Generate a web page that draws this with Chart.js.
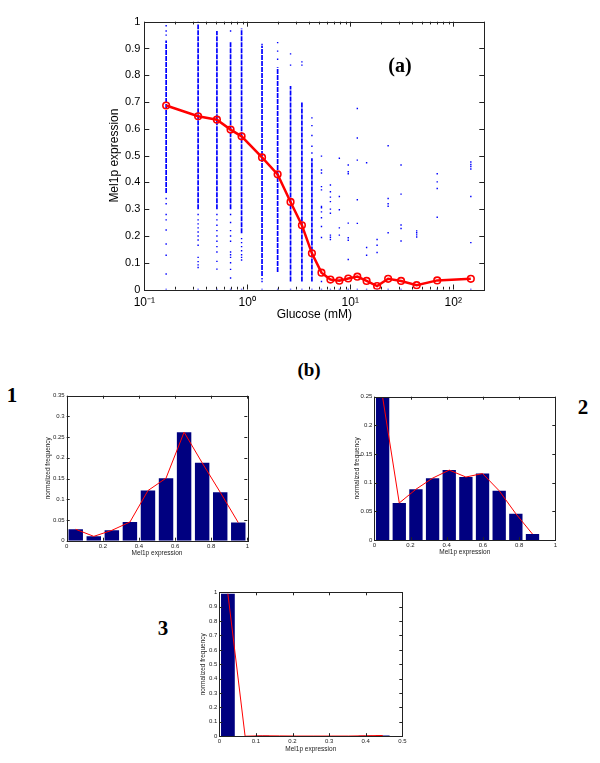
<!DOCTYPE html>
<html>
<head>
  <title>Mel1p expression vs glucose</title>
  <script src="https://cdn.jsdelivr.net/npm/chart.js"></script>
  <style>
    body { margin: 0; background: #fff; width: 600px; height: 763px; position: relative; overflow: hidden; }
    canvas { position: absolute; }
    .lbl { position: absolute; font-family: "Liberation Serif", "Times New Roman", serif; font-weight: bold;
           line-height: 1; transform: translate(-50%, -50%); color: #000; }
  </style>
</head>
<body>
  <canvas id="main" width="400" height="326" style="left:103px;top:0px"></canvas>
  <canvas id="h1" width="216" height="173" style="left:40px;top:388px"></canvas>
  <canvas id="h2" width="215" height="172" style="left:349px;top:388px"></canvas>
  <canvas id="h3" width="216" height="173" style="left:195px;top:584px"></canvas>

  <div class="lbl" style="left:400px;top:65px;font-size:20px">(a)</div>
  <div class="lbl" style="left:309px;top:369px;font-size:19px">(b)</div>
  <div class="lbl" style="left:12px;top:395px;font-size:21px">1</div>
  <div class="lbl" style="left:583px;top:407px;font-size:21px">2</div>
  <div class="lbl" style="left:163px;top:628px;font-size:21px">3</div>

  <script>
    // (a) glucose levels (mM) and mean Mel1p expression
    const glucose  = [0.163, 0.333, 0.507, 0.688, 0.88, 1.39, 1.97, 2.63, 3.39, 4.24, 5.25,
                      6.41, 7.83, 9.55, 11.7, 14.4, 18.2, 23.3, 31.1, 44.1, 69.8, 148];
    const meanExpr = [0.687, 0.647, 0.634, 0.597, 0.572, 0.493, 0.430, 0.327, 0.240, 0.135, 0.063,
                      0.037, 0.033, 0.041, 0.048, 0.032, 0.013, 0.040, 0.032, 0.016, 0.034, 0.040];
    // where single cells pile up into a solid column
    const denseLo = [0.36, 0.30, 0.30, 0.30, 0.21, 0.05, 0.065, 0.03, 0.03, 0.03];
    const denseHi = [0.93, 0.99, 0.965, 0.925, 0.975, 0.91, 0.83, 0.76, 0.70, 0.49];
    // single cells, one list per glucose level
    const cells = [
      [0.985, 0.965, 0.95, 0.34, 0.32, 0.28, 0.26, 0.222, 0.17, 0.128, 0.058, 0.0],
      [1.0, 0.28, 0.26, 0.245, 0.23, 0.215, 0.2, 0.185, 0.165, 0.12, 0.104, 0.092, 0.082, 0.0],
      [0.28, 0.26, 0.24, 0.22, 0.2, 0.18, 0.16, 0.14, 0.105, 0.076, 0.0],
      [0.965, 0.28, 0.25, 0.22, 0.2, 0.18, 0.14, 0.13, 0.12, 0.1, 0.075, 0.043, 0.0],
      [0.19, 0.175, 0.16, 0.145, 0.13, 0.12, 0.11, 0.0],
      [0.915, 0.04, 0.03, 0.0],
      [0.922, 0.89, 0.86, 0.0],
      [0.88, 0.838, 0.0],
      [0.85, 0.838, 0.0],
      [0.641, 0.612, 0.575, 0.535, 0.51, 0.0],
      [0.498, 0.446, 0.435, 0.384, 0.372, 0.31, 0.305, 0.29, 0.268, 0.235, 0.194, 0.03, 0.0],
      [0.39, 0.365, 0.345, 0.328, 0.3, 0.285, 0.203, 0.195, 0.187, 0.0],
      [0.49, 0.347, 0.298, 0.23, 0.203, 0.035, 0.0],
      [0.465, 0.44, 0.432, 0.248, 0.193, 0.184, 0.112, 0.0],
      [0.676, 0.566, 0.483, 0.335, 0.247, 0.0],
      [0.473, 0.157, 0.128, 0.0],
      [0.187, 0.165, 0.138, 0.0],
      [0.537, 0.34, 0.32, 0.311, 0.212, 0.0],
      [0.465, 0.356, 0.241, 0.228, 0.181, 0.0],
      [0.219, 0.212, 0.204, 0.196],
      [0.432, 0.402, 0.377, 0.27, 0.0],
      [0.476, 0.467, 0.459, 0.45, 0.347, 0.175, 0.0]
    ];
    const xMajor = [0.1, 1, 10, 100];
    const xMajorLabels = ['10⁻¹', '10⁰', '10¹', '10²'];
    const xMinor = [0.2, 0.3, 0.4, 0.5, 0.6, 0.7, 0.8, 0.9, 2, 3, 4, 5, 6, 7, 8, 9,
                    20, 30, 40, 50, 60, 70, 80, 90, 200];
    const yTicksMain = [0, 0.1, 0.2, 0.3, 0.4, 0.5, 0.6, 0.7, 0.8, 0.9, 1];

    // (b) histograms
    const bins1 = [0.05, 0.15, 0.25, 0.35, 0.45, 0.55, 0.65, 0.75, 0.85, 0.95];
    const freq1 = [0.0275, 0.0105, 0.025, 0.045, 0.121, 0.151, 0.262, 0.188, 0.117, 0.0437];
    const bins2 = [0.046, 0.138, 0.23, 0.322, 0.414, 0.506, 0.598, 0.69, 0.782, 0.874];
    const freq2 = [0.249, 0.0647, 0.0886, 0.108, 0.122, 0.110, 0.116, 0.086, 0.046, 0.0105];
    const bins3 = [0.0235, 0.0705, 0.1175, 0.1645, 0.2115, 0.2585, 0.3055, 0.3525, 0.3995, 0.4465];
    const freq3 = [0.99, 0.0, 0.003, 0.002, 0.001, 0.001, 0.001, 0.001, 0.003, 0.005];

    // matlab style box with ticks pointing inward
    const frameTicks = {
      id: 'frameTicks',
      afterDraw(chart, args, opts) {
        const { ctx, chartArea: a } = chart;
        const xs = chart.scales.x, ys = chart.scales.y;
        const len = opts.len || 4;
        ctx.save();
        ctx.strokeStyle = '#222';
        ctx.lineWidth = 1;
        ctx.beginPath();
        xs.ticks.forEach(t => {
          const p = Math.round(xs.getPixelForValue(t.value)) + 0.5;
          const l = t.label === '' ? len * 0.55 : len;
          ctx.moveTo(p, a.bottom); ctx.lineTo(p, a.bottom - l);
          ctx.moveTo(p, a.top); ctx.lineTo(p, a.top + l);
        });
        ys.ticks.forEach(t => {
          const p = Math.round(ys.getPixelForValue(t.value)) + 0.5;
          ctx.moveTo(a.left, p); ctx.lineTo(a.left + len, p);
          ctx.moveTo(a.right, p); ctx.lineTo(a.right - len, p);
        });
        ctx.stroke();
        ctx.strokeRect(Math.round(a.left) + 0.5, Math.round(a.top) + 0.5,
                       Math.round(a.right - a.left), Math.round(a.bottom - a.top));
        ctx.restore();
      }
    };

    const fmt = v => String(+(+v).toFixed(2));

    // ---- (a) ----
    const segs = [];
    denseLo.forEach((lo, i) => {
      segs.push({ x: glucose[i], y: lo }, { x: glucose[i], y: denseHi[i] }, { x: glucose[i], y: null });
    });
    const dots = cells.flatMap((ys, i) => ys.map(y => ({ x: glucose[i], y })));

    new Chart(document.getElementById('main'), {
      type: 'scatter',
      data: {
        datasets: [
          {
            type: 'line',
            data: glucose.map((g, i) => ({ x: g, y: meanExpr[i] })),
            borderColor: '#ff0000', borderWidth: 2.5,
            pointRadius: 3.3, pointBorderWidth: 1.6, pointBackgroundColor: 'rgba(0,0,0,0)',
            pointBorderColor: '#ff0000'
          },
          {
            type: 'line',
            data: segs,
            showLine: true, spanGaps: false,
            borderColor: '#0000ff', borderWidth: 1.7, borderDash: [5, 1], pointRadius: 0
          },
          {
            data: dots,
            pointStyle: 'rect', pointRadius: 1, borderWidth: 0,
            backgroundColor: '#0000ff'
          }
        ]
      },
      options: {
        responsive: false, animation: false, devicePixelRatio: 1,
        layout: { padding: { top: 21.7, right: 18.7, left: 0, bottom: 0 } },
        plugins: { legend: { display: false }, tooltip: { enabled: false }, frameTicks: { len: 5 } },
        scales: {
          x: {
            type: 'logarithmic', min: 0.1, max: 200,
            afterBuildTicks: s => { s.ticks = xMajor.concat(xMinor).map(v => ({ value: v })); },
            afterFit: s => { s.height = 36.5; },
            grid: { display: false, drawTicks: false }, border: { display: false },
            ticks: {
              autoSkip: false, maxRotation: 0, padding: 6, color: '#000',
              font: { family: 'Liberation Sans, Arial, sans-serif', size: 12 },
              callback: v => { const k = xMajor.indexOf(v); return k < 0 ? '' : xMajorLabels[k]; }
            },
            title: { display: true, text: 'Glucose (mM)', color: '#000',
                     font: { family: 'Liberation Sans, Arial, sans-serif', size: 12 } }
          },
          y: {
            min: 0, max: 1,
            afterBuildTicks: s => { s.ticks = yTicksMain.map(v => ({ value: v })); },
            afterFit: s => { s.width = 41.3; },
            grid: { display: false, drawTicks: false }, border: { display: false },
            ticks: { padding: 4, color: '#000', callback: fmt,
                     font: { family: 'Liberation Sans, Arial, sans-serif', size: 11 } },
            title: { display: true, text: 'Mel1p expression', color: '#000',
                     font: { family: 'Liberation Sans, Arial, sans-serif', size: 12 } }
          }
        }
      },
      plugins: [frameTicks]
    });

    // ---- (b) ----
    function histChart(id, bins, freq, xTicks, yTicks, box) {
      const font = { family: 'Liberation Sans, Arial, sans-serif', size: 6 };
      const tfont = { family: 'Liberation Sans, Arial, sans-serif', size: 6.5 };
      return new Chart(document.getElementById(id), {
        type: 'bar',
        data: {
          datasets: [
            {
              type: 'line',
              data: bins.map((b, i) => ({ x: b, y: freq[i] })),
              borderColor: '#ff0000', borderWidth: 1, pointRadius: 0
            },
            {
              data: bins.map((b, i) => ({ x: b, y: freq[i] })),
              backgroundColor: '#000080', borderWidth: 0,
              barPercentage: 0.8, categoryPercentage: 1.0
            }
          ]
        },
        options: {
          responsive: false, animation: false, devicePixelRatio: 1,
          layout: { padding: { top: box.top, right: box.right, left: 0, bottom: 0 } },
          plugins: { legend: { display: false }, tooltip: { enabled: false }, frameTicks: { len: 3 } },
          scales: {
            x: {
              type: 'linear', min: xTicks[0], max: xTicks[xTicks.length - 1], offset: false,
              afterBuildTicks: s => { s.ticks = xTicks.map(v => ({ value: v })); },
              afterFit: s => { s.height = box.xh; },
              grid: { display: false, drawTicks: false }, border: { display: false },
              ticks: { autoSkip: false, maxRotation: 0, padding: 2, color: '#222', font, callback: fmt },
              title: { display: true, text: 'Mel1p expression', color: '#222', font: tfont }
            },
            y: {
              min: yTicks[0], max: yTicks[yTicks.length - 1],
              afterBuildTicks: s => { s.ticks = yTicks.map(v => ({ value: v })); },
              afterFit: s => { s.width = box.yw; },
              grid: { display: false, drawTicks: false }, border: { display: false },
              ticks: { autoSkip: false, padding: 2, color: '#222', font, callback: fmt },
              title: { display: true, text: 'normalized frequency', color: '#222', font: tfont }
            }
          }
        },
        plugins: [frameTicks]
      });
    }

    histChart('h1', bins1, freq1, [0, 0.2, 0.4, 0.6, 0.8, 1],
              [0, 0.05, 0.1, 0.15, 0.2, 0.25, 0.3, 0.35],
              { top: 7.7, right: 8.7, yw: 26.7, xh: 20.3 });
    histChart('h2', bins2, freq2, [0, 0.2, 0.4, 0.6, 0.8, 1],
              [0, 0.05, 0.1, 0.15, 0.2, 0.25],
              { top: 8.7, right: 8.7, yw: 25.3, xh: 19.9 });
    histChart('h3', bins3, freq3, [0, 0.1, 0.2, 0.3, 0.4, 0.5],
              [0, 0.1, 0.2, 0.3, 0.4, 0.5, 0.6, 0.7, 0.8, 0.9, 1],
              { top: 8.3, right: 8.7, yw: 24.3, xh: 20.8 });
  </script>
</body>
</html>
